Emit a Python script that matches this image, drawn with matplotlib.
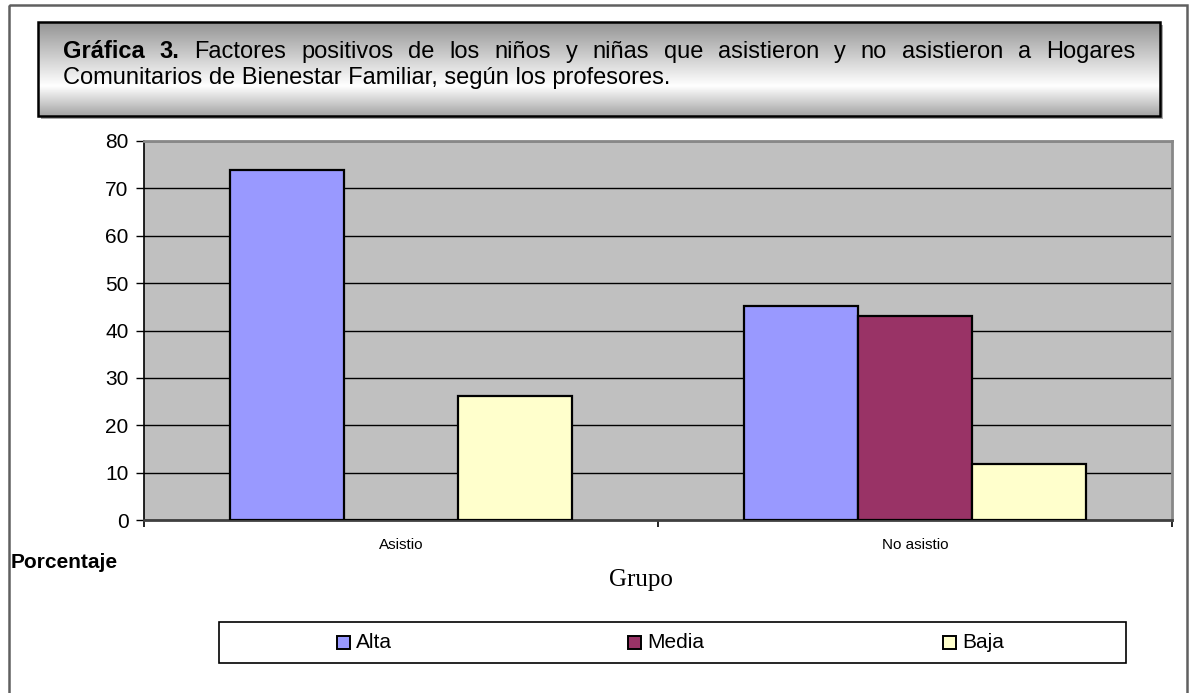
import numpy as np
import matplotlib
matplotlib.use('Agg')
import matplotlib.pyplot as plt
from matplotlib.patches import Rectangle

# data
groups = ['Asistio', 'No asistio']
series = ['Alta', 'Media', 'Baja']
alta = [73.9, 45.2]
media = [0.0, 43.0]
baja = [26.1, 11.8]
colors = ['#9999FF', '#993366', '#FFFFCC']

plt.rcParams['font.family'] = ['Liberation Sans', 'DejaVu Sans']

W, H = 1189, 693
fig = plt.figure(figsize=(W / 100, H / 100), dpi=100)
fig.patch.set_facecolor('white')

# overlay in pixel coords for frame, title box, labels, legend
ov = fig.add_axes([0, 0, 1, 1])
ov.set_xlim(0, W)
ov.set_ylim(H, 0)
ov.axis('off')

# outer frame
ov.add_patch(Rectangle((9, 5), 1178, 700, fill=False, ec='#606060', lw=1.8))

# title box with vertical gradient and shadow
bx0, bx1, by0, by1 = 38, 1160, 22, 116
ov.add_patch(Rectangle((bx0 + 3, by0 + 3), bx1 - bx0, by1 - by0, fc='#a8a8a8', ec='none', zorder=1))
t = np.linspace(0, 1, 200)
g = np.interp(t, [0, 0.68, 1], [0.58, 1.0, 0.64])
ov.imshow(g[:, None], cmap='gray', vmin=0, vmax=1, aspect='auto',
          extent=(bx0, bx1, by1, by0), zorder=2)
ov.add_patch(Rectangle((bx0, by0), bx1 - bx0, by1 - by0, fill=False, ec='black', lw=1.8, zorder=3))
ov.set_xlim(0, W)
ov.set_ylim(H, 0)

# justified first title line
fs = 17
line1 = [('Gráfica', 'bold'), ('3.', 'bold'), ('Factores', 'normal'), ('positivos', 'normal'),
         ('de', 'normal'), ('los', 'normal'), ('niños', 'normal'), ('y', 'normal'),
         ('niñas', 'normal'), ('que', 'normal'), ('asistieron', 'normal'), ('y', 'normal'),
         ('no', 'normal'), ('asistieron', 'normal'), ('a', 'normal'), ('Hogares', 'normal')]
renderer = fig.canvas.get_renderer()
txts = []
for w, fw in line1:
    tt = ov.text(0, 58, w, fontsize=fs, fontweight=fw, va='baseline', ha='left', zorder=4)
    txts.append(tt)
widths = [tt.get_window_extent(renderer).width for tt in txts]
x_left, x_right = 63, 1135
gap = (x_right - x_left - sum(widths)) / (len(txts) - 1)
x = x_left
for tt, wd in zip(txts, widths):
    tt.set_x(x)
    x += wd + gap
ov.text(x_left, 84, 'Comunitarios de Bienestar Familiar, según los profesores.',
        fontsize=fs, va='baseline', ha='left', zorder=4)

# axis labels
ov.text(11, 562, 'Porcentaje', fontsize=15, fontweight='bold', va='center', ha='left')
ov.text(641, 580, 'Grupo', fontsize=18, family='Liberation Serif', va='center', ha='center')

# legend box
ov.add_patch(Rectangle((219, 622), 907, 41, fill=False, ec='black', lw=1.2))
for lx, name, c in zip([337, 628, 943], series, colors):
    ov.add_patch(Rectangle((lx, 636), 13, 13, fc=c, ec='black', lw=1.4))
    ov.text(lx + 19, 642, name, fontsize=15, va='center', ha='left')

# main plot
ax = fig.add_axes([144 / W, 1 - 520 / H, 1028 / W, 379 / H])
ax.set_facecolor('#C0C0C0')
xpos = np.arange(len(groups))
bw = 0.222
for i, (vals, c) in enumerate(zip([alta, media, baja], colors)):
    ax.bar(xpos + (i - 1) * bw, vals, width=bw, color=c, edgecolor='black', linewidth=1.6, zorder=3)

ax.set_xlim(-0.5, 1.5)
ax.set_ylim(0, 80)
ax.set_yticks(range(0, 81, 10))
ax.yaxis.grid(True, color='black', linewidth=1, zorder=0)
ax.set_axisbelow(True)
ax.tick_params(axis='y', labelsize=15, length=6, width=1, pad=5, direction='out')

ax.set_xticks(xpos)
ax.set_xticklabels(groups)
ax.set_xticks([-0.5, 0.5, 1.5], minor=True)
ax.tick_params(axis='x', which='major', length=0, labelsize=11, pad=13)
ax.tick_params(axis='x', which='minor', length=5, width=1.2, direction='out')

ax.spines['left'].set_color('black')
ax.spines['left'].set_linewidth(1.2)
ax.spines['bottom'].set_color('#404040')
ax.spines['bottom'].set_linewidth(2)
for s in ['top', 'right']:
    ax.spines[s].set_color('#888888')
    ax.spines[s].set_linewidth(2)

fig.savefig('out.png', dpi=100)
